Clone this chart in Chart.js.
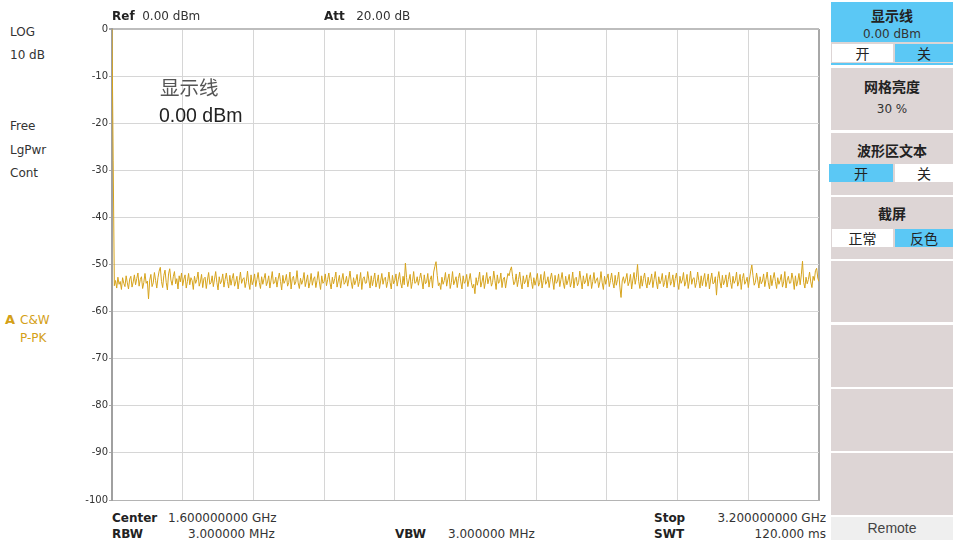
<!DOCTYPE html>
<html>
<head>
<meta charset="utf-8">
<script src="https://cdn.jsdelivr.net/npm/chart.js@4"></script>
<style>
  body { margin:0; width:953px; height:543px; background:#fff; position:relative; overflow:hidden;
         font-family:"DejaVu Sans", sans-serif; font-size:12px; color:#333; }
  .t { position:absolute; line-height:14px; white-space:nowrap; }
  .b { font-weight:bold; color:#222; }
  #wrap { position:absolute; left:80px; top:20px; width:741px; height:490px; }
  .panel { position:absolute; left:826px; top:0; width:127px; height:543px; background:#fff; }
  .key { position:absolute; left:5px; width:122px; background:#ddd5d5; text-align:center; }
  .blue { background:#5bc8f5; }
  .ttl { font-family:"Noto Sans CJK SC", sans-serif; font-weight:bold; font-size:14px; color:#222; position:absolute; left:0; right:0; }
  .sub { font-size:12px; color:#333; position:absolute; left:0; right:0; }
  .tg { position:absolute; height:18px; line-height:18px; font-family:"Noto Sans CJK SC", sans-serif; font-size:14px; color:#222; text-align:center; }
  .w { background:#fff; }
</style>
</head>
<body>
<div id="wrap"><canvas id="c"></canvas></div>

<div class="t" style="left:10px;top:25px">LOG</div>
<div class="t" style="left:10px;top:48px">10 dB</div>
<div class="t" style="left:10px;top:119px">Free</div>
<div class="t" style="left:10px;top:143px">LgPwr</div>
<div class="t" style="left:10px;top:166px">Cont</div>
<div class="t" style="left:5px;top:313px;color:#d4a017;font-weight:bold;font-size:13px">A</div>
<div class="t" style="left:20px;top:313px;color:#d4a017">C&amp;W</div>
<div class="t" style="left:20px;top:331px;color:#d4a017">P-PK</div>

<div class="t" style="left:112px;top:9px"><span class="b">Ref</span>&nbsp; 0.00 dBm</div>
<div class="t" style="left:324px;top:9px"><span class="b">Att</span>&nbsp;&nbsp; 20.00 dB</div>

<div class="t" style="left:160px;top:75px;font-family:'Noto Sans CJK SC';font-size:19.5px;line-height:24px;color:#555">显示线</div>
<div class="t" style="left:159px;top:103px;font-family:'Liberation Sans';font-size:19.5px;line-height:24px;color:#222">0.00 dBm</div>

<div class="t b" style="left:112px;top:511px">Center</div>
<div class="t" style="left:168px;top:511px">1.600000000 GHz</div>
<div class="t b" style="left:112px;top:527px">RBW</div>
<div class="t" style="left:188px;top:527px">3.000000 MHz</div>
<div class="t b" style="left:395px;top:527px">VBW</div>
<div class="t" style="left:448px;top:527px">3.000000 MHz</div>
<div class="t b" style="left:654px;top:511px">Stop</div>
<div class="t" style="right:127px;top:511px">3.200000000 GHz</div>
<div class="t b" style="left:654px;top:527px">SWT</div>
<div class="t" style="right:127px;top:527px">120.000 ms</div>

<div class="panel">
  <div class="key" style="top:2px;height:62px">
    <div class="blue" style="position:absolute;left:0;right:0;top:0;height:40px"></div>
    <div class="ttl" style="top:3px">显示线</div>
    <div class="sub" style="top:25px">0.00 dBm</div>
    <div class="tg w" style="left:1px;width:61px;top:42px">开</div>
    <div class="tg blue" style="left:64px;width:58px;top:42px">关</div>
    <div class="blue" style="position:absolute;left:0;right:0;top:61px;height:2px"></div>
  </div>
  <div class="key" style="top:68px;height:62px">
    <div class="ttl" style="top:8px">网格亮度</div>
    <div class="sub" style="top:34px">30 %</div>
  </div>
  <div class="key" style="top:133px;height:62px">
    <div class="ttl" style="top:7px">波形区文本</div>
    <div class="tg blue" style="left:-2px;width:64px;top:31px">开</div>
    <div class="tg w" style="left:64px;width:58px;top:31px">关</div>
  </div>
  <div class="key" style="top:197px;height:62px">
    <div class="ttl" style="top:6px">截屏</div>
    <div class="tg w" style="left:1px;width:61px;top:32px">正常</div>
    <div class="tg blue" style="left:64px;width:58px;top:32px">反色</div>
  </div>
  <div class="key" style="top:261px;height:61px"></div>
  <div class="key" style="top:325px;height:62px"></div>
  <div class="key" style="top:389px;height:62px"></div>
  <div class="key" style="top:453px;height:62px"></div>
  <div class="key" style="top:517px;height:23px;background:#efefef;font-family:'Liberation Sans';font-size:14px;line-height:23px;color:#444">Remote</div>
</div>

<script>
// trace A amplitudes (dBm), 601 sweep points across 1.6 GHz span
const traceA = [
  0, -28, -54.5, -53.4, -55.0, -52.7, -54.2, -53.6, -55.3, -52.8, -54.0, -54.7, -52.4, -53.9, -55.2, -53.1, -52.5, -54.8, -53.7, -52.2,
  -54.3, -53.0, -51.8, -54.6, -53.2, -52.6, -55.1, -53.8, -51.9, -54.0, -53.5, -57.3, -53.3, -52.1, -54.7, -53.9, -51.7, -53.4, -55.0, -52.8,
  -51.4, -50.6, -53.6, -54.9, -52.3, -51.2, -53.8, -55.4, -52.0, -50.9, -53.3, -54.4, -52.6, -51.5, -54.1, -53.0, -55.2, -52.4, -53.7, -51.8,
  -54.5, -53.1, -52.2, -55.0, -53.6, -51.9, -54.3, -52.8, -53.4, -55.3, -52.5, -54.0, -53.2, -51.6, -54.6, -53.7, -52.1, -54.9, -53.0, -52.7,
  -55.1, -53.3, -51.7, -54.2, -53.9, -52.4, -54.7, -53.1, -51.5, -53.8, -55.4, -52.6, -54.1, -53.5, -52.0, -54.8, -53.2, -51.8, -53.6, -55.0,
  -52.3, -54.4, -53.0, -51.9, -54.6, -53.7, -52.5, -55.2, -53.4, -51.6, -54.0, -53.1, -52.8, -54.9, -53.6, -51.4, -53.9, -55.3, -52.2, -54.3,
  -53.5, -52.0, -54.7, -53.2, -51.7, -53.8, -55.1, -52.6, -54.2, -53.0, -51.9, -54.5, -53.7, -52.4, -55.0, -53.3, -51.5, -54.1, -53.9, -52.7,
  -54.8, -53.1, -51.8, -53.6, -55.4, -52.3, -54.0, -53.4, -52.1, -54.6, -53.8, -51.6, -55.2, -53.0, -52.5, -54.3, -53.7, -51.3, -53.9, -55.1,
  -52.9, -54.2, -53.3, -51.7, -54.7, -53.5, -52.2, -55.0, -53.8, -51.9, -54.4, -53.1, -52.6, -54.9, -53.4, -51.5, -53.7, -55.3, -52.4, -54.0,
  -53.6, -52.0, -54.5, -53.2, -51.8, -53.9, -55.2, -52.7, -54.1, -53.0, -51.6, -54.8, -53.5, -52.3, -55.0, -53.3, -51.9, -54.2, -53.8, -52.5,
  -54.6, -53.1, -51.4, -53.7, -55.1, -52.8, -54.3, -53.4, -52.1, -54.7, -53.6, -51.7, -55.3, -53.0, -52.6, -54.0, -53.9, -51.5, -53.3, -55.0,
  -52.4, -54.5, -53.2, -51.8, -54.8, -53.7, -52.2, -55.1, -53.5, -51.9, -54.2, -53.0, -52.7, -54.9, -53.6, -51.6, -53.8, -55.2, -52.3, -54.1,
  -53.4, -52.0, -54.6, -53.1, -51.7, -53.9, -55.0, -52.5, -54.3, -49.7, -52.8, -54.7, -53.3, -52.1, -55.1, -53.6, -51.5, -54.0, -53.8, -52.6,
  -54.4, -53.0, -51.8, -53.5, -55.2, -52.2, -54.1, -53.7, -51.9, -54.8, -53.2, -52.4, -55.0, -51.6, -50.4, -49.4, -52.3, -54.5, -53.9, -55.3,
  -52.7, -54.2, -53.4, -51.7, -54.6, -53.1, -52.0, -55.1, -53.8, -51.5, -54.3, -53.5, -52.6, -54.9, -53.0, -51.8, -53.7, -55.2, -52.4, -54.0,
  -53.6, -52.1, -54.7, -53.3, -51.9, -53.9, -55.0, -54.2, -56.2, -52.8, -54.4, -53.2, -51.6, -54.8, -53.7, -52.3, -55.1, -53.5, -51.7, -54.1,
  -53.0, -52.5, -54.6, -53.8, -51.4, -53.4, -55.3, -52.2, -54.0, -53.6, -51.8, -54.9, -53.1, -52.7, -55.0, -53.3, -51.9, -52.4, -51.2, -50.5,
  -52.6, -54.3, -53.7, -52.0, -54.7, -53.2, -51.6, -53.9, -55.2, -52.4, -54.1, -53.5, -52.2, -54.8, -53.0, -51.7, -53.6, -55.1, -52.8, -54.4,
  -53.3, -51.9, -54.6, -53.8, -52.1, -55.0, -53.4, -51.5, -54.2, -53.7, -52.6, -54.9, -53.1, -51.8, -53.5, -55.3, -52.3, -54.0, -53.6, -52.0,
  -54.7, -53.2, -51.7, -53.9, -55.1, -52.5, -54.3, -53.4, -52.1, -54.8, -53.7, -51.6, -55.0, -53.0, -52.7, -54.5, -53.8, -51.4, -53.3, -55.2,
  -52.4, -54.1, -53.5, -51.9, -54.6, -53.1, -52.2, -55.1, -53.6, -51.7, -54.0, -53.3, -52.8, -54.9, -53.7, -51.5, -53.9, -55.3, -52.5, -54.2,
  -53.0, -52.0, -54.7, -53.4, -51.8, -53.8, -55.0, -52.3, -54.4, -53.2, -51.6, -54.8, -57.0, -53.5, -52.6, -54.0, -53.1, -51.9, -54.5, -53.7,
  -52.1, -55.2, -53.3, -51.7, -54.2, -52.8, -50.0, -53.6, -55.1, -52.4, -54.6, -53.0, -51.8, -53.9, -55.0, -52.7, -54.3, -53.5, -52.0, -54.9,
  -53.2, -51.5, -53.7, -55.2, -52.6, -54.1, -53.4, -51.9, -54.7, -53.8, -52.3, -55.0, -53.1, -51.6, -54.4, -53.6, -52.2, -54.8, -53.0, -51.8,
  -53.9, -55.3, -52.5, -54.0, -53.3, -51.7, -54.6, -53.7, -52.1, -55.1, -53.5, -51.4, -54.2, -53.0, -52.8, -54.9, -53.8, -51.6, -53.4, -55.0,
  -52.4, -54.5, -53.1, -51.9, -54.7, -53.6, -52.0, -55.2, -53.3, -51.8, -54.1, -53.9, -52.6, -56.5, -53.0, -51.5, -53.7, -55.0, -52.3, -54.3,
  -53.5, -52.2, -54.8, -53.2, -51.7, -53.8, -55.1, -52.5, -54.0, -53.4, -51.6, -54.6, -53.7, -52.1, -55.3, -53.0, -51.9, -54.2, -53.6, -52.7,
  -54.9, -53.1, -51.4, -50.1, -52.4, -54.4, -53.8, -51.8, -53.3, -55.0, -52.6, -54.1, -53.5, -52.0, -54.7, -53.2, -51.6, -53.9, -55.2, -52.3,
  -54.5, -53.0, -51.7, -53.6, -55.1, -52.8, -54.2, -53.4, -52.1, -54.8, -53.7, -51.5, -55.0, -53.3, -52.5, -54.0, -53.9, -51.8, -53.1, -55.3,
  -52.4, -54.6, -53.5, -51.9, -54.3, -52.2, -49.3, -53.8, -55.0, -52.7, -54.1, -53.2, -51.6, -53.7, -54.9, -52.5, -53.4, -51.3, -50.8, -52.9,
  -53.6
];
const yTicks = [0, -10, -20, -30, -40, -50, -60, -70, -80, -90, -100];
const xDivisions = 10;

const pts = traceA.map((v, i) => ({ x: i, y: v }));
const last = traceA.length - 1;

new Chart(document.getElementById('c'), {
  type: 'line',
  data: {
    datasets: [{
      data: pts,
      borderColor: '#d6a31c',
      borderWidth: 1,
      pointRadius: 0,
      tension: 0
    }]
  },
  options: {
    responsive: true,
    maintainAspectRatio: false,
    animation: false,
    layout: { padding: { top: 9, right: 2, bottom: 10, left: 0 } },
    plugins: { legend: { display: false }, tooltip: { enabled: false } },
    scales: {
      x: {
        type: 'linear',
        min: 0,
        max: last,
        afterBuildTicks: s => { s.ticks = Array.from({ length: xDivisions + 1 }, (_, k) => ({ value: last * k / xDivisions })); },
        afterFit: s => { s.height = 0; },
        ticks: { display: false },
        grid: {
          color: c => c.index === xDivisions ? '#a8a8a8' : '#d6d6d6',
          lineWidth: c => c.index === xDivisions ? 2 : 1,
          drawTicks: false
        },
        border: { display: true, color: '#b4b4b4' }
      },
      y: {
        min: -100,
        max: 0,
        afterBuildTicks: s => { s.ticks = yTicks.map(v => ({ value: v })); },
        afterFit: s => { s.width = 32; },
        ticks: {
          color: '#333',
          padding: 1,
          font: { family: 'DejaVu Sans', size: 10 }
        },
        grid: {
          color: c => c.tick && c.tick.value === 0 ? '#bdbdbd' : '#d6d6d6',
          lineWidth: c => c.tick && c.tick.value === 0 ? 2 : 1,
          tickLength: 3,
          tickColor: '#aaa'
        },
        border: { display: true, color: '#a0a0a0', width: 2 }
      }
    }
  }
});
</script>
</body>
</html>
